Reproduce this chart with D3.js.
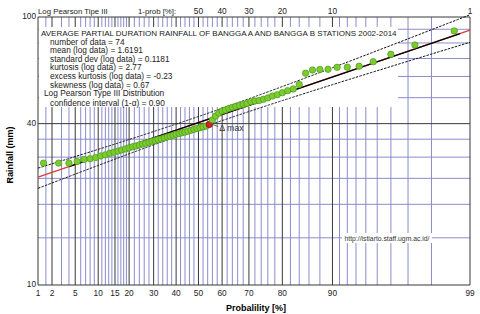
<!DOCTYPE html>
<html>
<head>
<meta charset="utf-8">
<script src="https://cdn.jsdelivr.net/npm/d3@7"></script>
<style>
	body { margin: 0; background: #fff; }
	svg { display: block; font-family: "Liberation Sans", Arial, sans-serif; }
</style>
</head>
<body>
<svg id="chart" width="480" height="314"></svg>
<script>
// sorted rainfall (mm), rank 1..74
var rainfall = [
	28.5, 28.5, 28.5, 28.9, 29.4, 29.6, 29.9, 30.3, 30.6, 31.0,
	31.3, 31.6, 31.9, 32.2, 32.5, 32.8, 33.0, 33.3, 33.6, 33.8,
	34.1, 34.4, 34.6, 34.9, 35.1, 35.4, 35.7, 35.9, 36.2, 36.5,
	36.7, 37.0, 37.2, 37.5, 37.8, 38.1, 38.4, 38.6, 38.9, 39.2,
	39.7, 41.3, 42.7, 43.8, 44.6, 45.0, 45.6, 46.0, 46.4, 46.8,
	47.2, 47.6, 48.3, 48.6, 48.8, 49.3, 49.9, 50.7, 51.3, 52.2,
	53.1, 53.9, 56.0, 61.7, 63.4, 63.7, 63.8, 64.9, 65.0, 65.5,
	68.1, 72.6, 78.6, 88.7
];
var deltaMaxRank = 41;

// statistics printed in the box
var nData = 74;
var meanLog = 1.6191;
var sdLog = 0.1181;
var kurt = 2.77;
var exKurt = -0.23;
var skew = 0.67;
var confLevel = 0.90;

// axes
var probLabels = [1, 2, 5, 10, 15, 20, 30, 40, 50, 60, 70, 80, 90, 99];
var probMinor = [1.5, 3, 4, 6, 7, 8, 9, 11, 12, 13, 14, 16, 17, 18, 19,
	22, 24, 26, 28, 32, 34, 36, 38, 42, 44, 46, 48, 52, 54, 56, 58,
	62, 64, 66, 68, 72, 74, 76, 78, 82, 84, 86, 88,
	91, 92, 93, 94, 95, 96, 97, 98];
var topLabels = [50, 40, 30, 20, 10, 1];
var rainLabels = [10, 40, 100];
var rainMinor = [15, 20, 25, 30, 35, 50, 60, 70, 80, 90];
// probability range of the black fit segment
var fitSpan = [4, 98.8];

var svg = d3.select("#chart");
var BLUE = "#8a8ccc";
var DARK = "#383838";

// inverse normal cdf (Acklam)
var invNorm = function (p) {
	var a = [-39.6968302866538, 220.946098424521, -275.928510446969, 138.357751867269, -30.6647980661472, 2.50662827745924];
	var b = [-54.4760987982241, 161.585836858041, -155.698979859887, 66.8013118877197, -13.2806815528857];
	var c = [-0.00778489400243029, -0.322396458041136, -2.40075827716184, -2.54973253934373, 4.37466414146497, 2.93816398269878];
	var d = [0.00778469570904146, 0.32246712907004, 2.445134137143, 3.75440866190742];
	var q, r;
	if (p < 0.02425) {
		q = Math.sqrt(-2 * Math.log(p));
		return (((((c[0] * q + c[1]) * q + c[2]) * q + c[3]) * q + c[4]) * q + c[5]) /
			((((d[0] * q + d[1]) * q + d[2]) * q + d[3]) * q + 1);
	}
	if (p > 1 - 0.02425) {
		return -invNorm(1 - p);
	}
	q = p - 0.5;
	r = q * q;
	return (((((a[0] * r + a[1]) * r + a[2]) * r + a[3]) * r + a[4]) * r + a[5]) * q /
		(((((b[0] * r + b[1]) * r + b[2]) * r + b[3]) * r + b[4]) * r + 1);
};

// Pearson III frequency factor (Wilson-Hilferty)
var kFactor = function (pct) {
	var z = invNorm(pct / 100);
	return (2 / skew) * (Math.pow(1 + skew * z / 6 - skew * skew / 36, 3) - 1);
};

var x = d3.scaleLinear().domain([kFactor(1), kFactor(99)]).range([38, 470]);
var px = function (pct) { return x(kFactor(pct)); };
var y = d3.scaleLog().domain([10, 100]).range([285, 17]);
var rainOfK = function (k) { return Math.pow(10, meanLog + k * sdLog); };

// ---- grid ----
var gGrid = svg.append("g");
gGrid.selectAll("line.vminor").data(probMinor).enter().append("line")
	.attr("x1", px).attr("x2", px).attr("y1", 17).attr("y2", 285)
	.attr("stroke", BLUE).attr("stroke-width", 1);
gGrid.selectAll("line.hminor").data(rainMinor).enter().append("line")
	.attr("x1", 38).attr("x2", 470).attr("y1", y).attr("y2", y)
	.attr("stroke", BLUE).attr("stroke-width", 1);
gGrid.selectAll("line.vmajor").data(probLabels).enter().append("line")
	.attr("x1", px).attr("x2", px).attr("y1", 17).attr("y2", 285)
	.attr("stroke", DARK).attr("stroke-width", 1);
gGrid.selectAll("line.hmajor").data(rainLabels).enter().append("line")
	.attr("x1", 38).attr("x2", 470).attr("y1", y).attr("y2", y)
	.attr("stroke", DARK).attr("stroke-width", 1);

// axis labels
svg.selectAll("text.xlab").data(probLabels).enter().append("text")
	.attr("x", px).attr("y", 296)
	.attr("text-anchor", "middle").attr("font-size", "8.3px").attr("fill", "#222")
	.text(function (d) { return d; });
svg.selectAll("text.toplab").data(topLabels).enter().append("text")
	.attr("x", function (d) { return px(100 - d); }).attr("y", 14)
	.attr("text-anchor", "middle").attr("font-size", "8.3px").attr("fill", "#222")
	.text(function (d) { return d; });
svg.selectAll("text.ylab").data(rainLabels).enter().append("text")
	.attr("x", 36).attr("y", function (d) { return y(d) + 2; })
	.attr("text-anchor", "end").attr("font-size", "8.3px").attr("fill", "#222")
	.text(function (d) { return d; });

svg.append("text").attr("x", 38).attr("y", 14).attr("font-size", "7.8px").attr("fill", "#222")
	.text("Log Pearson Tipe III");
svg.append("text").attr("x", 138).attr("y", 14).attr("font-size", "7.8px").attr("fill", "#222")
	.text("1-prob [%]:");

svg.append("text").attr("x", 256).attr("y", 311)
	.attr("text-anchor", "middle").attr("font-size", "9px").attr("font-weight", "bold")
	.text("Probalility [%]");
svg.append("text")
	.attr("transform", "translate(13,155) rotate(-90)")
	.attr("text-anchor", "middle").attr("font-size", "9px").attr("font-weight", "bold")
	.text("Rainfall (mm)");

// ---- info box ----
svg.append("rect").attr("x", 39).attr("y", 27).attr("width", 359).attr("height", 80)
	.attr("fill", "#fff");
var info = [
	{x: 41, t: "AVERAGE PARTIAL DURATION RAINFALL OF BANGGA A AND BANGGA B STATIONS 2002-2014", fs: 8},
	{x: 50, t: "number of data = " + nData},
	{x: 50, t: "mean (log data) = " + meanLog.toFixed(4)},
	{x: 50, t: "standard dev (log data) = " + sdLog.toFixed(4)},
	{x: 50, t: "kurtosis (log data) = " + kurt.toFixed(2)},
	{x: 50, t: "excess kurtosis (log data) = " + exKurt.toFixed(2)},
	{x: 50, t: "skewness (log data) = " + skew.toFixed(2)},
	{x: 44, t: "Log Pearson Type III Distribution"},
	{x: 50, t: "confidence interval (1-\u03b1) =  " + confLevel.toFixed(2)}
];
svg.selectAll("text.info").data(info).enter().append("text")
	.attr("x", function (d) { return d.x; })
	.attr("y", function (d, i) { return 36 + i * 8.6 + (i === 8 ? 1 : 0); })
	.attr("font-size", function (d) { return (d.fs || 8.3) + "px"; })
	.attr("fill", "#222")
	.text(function (d) { return d.t; });

// url label
var gUrl = svg.append("g");
gUrl.append("rect").attr("x", 342).attr("y", 233).attr("width", 90).attr("height", 10).attr("fill", "#fff");
gUrl.append("text").attr("x", 387).attr("y", 240.5).attr("text-anchor", "middle")
	.attr("font-size", "6.8px").attr("fill", "#333").text("http://istiarto.staff.ugm.ac.id/");

// ---- fitted line and confidence band ----
var fine = d3.range(1, 99.001, 0.25);
var line = d3.line()
	.x(function (d) { return px(d.p); })
	.y(function (d) { return y(d.v); });

var zc = invNorm(1 - (1 - confLevel) / 2);
var aC = 1 - zc * zc / (2 * (nData - 1));
var band = function (pct, sign) {
	var k = kFactor(pct);
	var bC = k * k - zc * zc / nData;
	return rainOfK((k + sign * Math.sqrt(k * k - aC * bC)) / aC);
};

svg.append("path")
	.datum([1, 99].map(function (p) { return {p: p, v: rainOfK(kFactor(p))}; }))
	.attr("d", line).attr("fill", "none").attr("stroke", "#e03a3a").attr("stroke-width", 1.3);
svg.append("path")
	.datum(fitSpan.map(function (p) { return {p: p, v: rainOfK(kFactor(p))}; }))
	.attr("d", line).attr("fill", "none").attr("stroke", "#000").attr("stroke-width", 1.3);
[1, -1].forEach(function (s) {
	svg.append("path")
		.datum(fine.map(function (p) { return {p: p, v: band(p, s)}; }))
		.attr("d", line).attr("fill", "none").attr("stroke", "#111")
		.attr("stroke-width", 1).attr("stroke-dasharray", "2.5,1.2");
});

// ---- data points ----
var pts = rainfall.map(function (v, i) {
	return {p: 100 * (i + 1) / (nData + 1), v: v, rank: i + 1};
});
svg.selectAll("circle.pt").data(pts).enter().append("circle")
	.attr("cx", function (d) { return px(d.p); })
	.attr("cy", function (d) { return y(d.v); })
	.attr("r", 3.2)
	.attr("fill", function (d) { return d.rank === deltaMaxRank ? "#d42020" : "#7ccc2e"; })
	.attr("stroke", function (d) { return d.rank === deltaMaxRank ? "#801010" : "#4a9a22"; })
	.attr("stroke-width", 0.7);

// delta max marker
var dm = pts[deltaMaxRank - 1];
svg.append("line")
	.attr("x1", px(dm.p) + 3).attr("y1", y(dm.v))
	.attr("x2", px(dm.p) + 9).attr("y2", y(dm.v) + 2)
	.attr("stroke", "#444").attr("stroke-width", 0.8);
svg.append("text").attr("x", px(dm.p) + 10).attr("y", y(dm.v) + 6)
	.attr("font-size", "8.8px").attr("fill", "#333").text("\u0394 max");
</script>
</body>
</html>
